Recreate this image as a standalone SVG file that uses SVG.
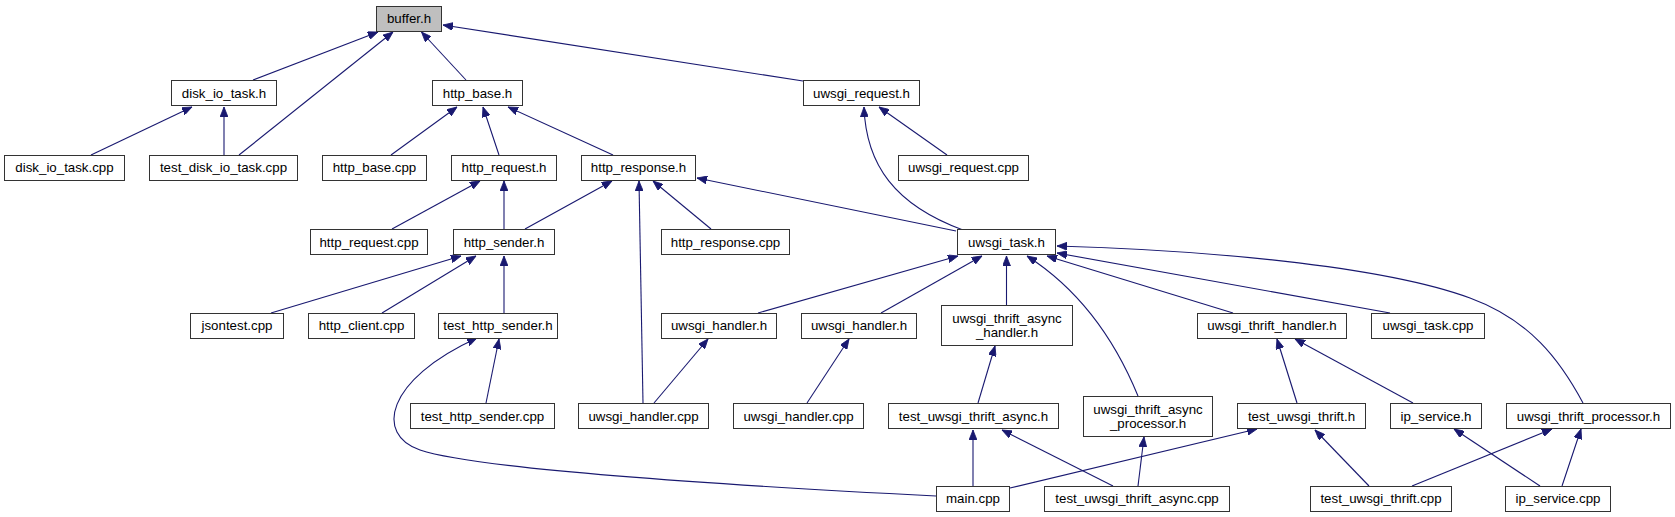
<svg xmlns="http://www.w3.org/2000/svg" width="1675" height="517" viewBox="0 0 1675 517">
<style>
.n rect{fill:#fff;stroke:#333;stroke-width:1}
.n text{font-family:"Liberation Sans",Arial,sans-serif;font-size:13.3px;fill:#000;text-anchor:middle}
#edges path{fill:none;stroke:#191970;stroke-width:1.1;marker-end:url(#ah)}
</style>
<defs>
<marker id="ah" viewBox="0 0 10 8" refX="10" refY="4" markerWidth="10" markerHeight="8" markerUnits="userSpaceOnUse" orient="auto"><path d="M0,0 L10,4 L0,8 Z" fill="#191970" stroke="#191970" stroke-width="0.8"/></marker>
</defs>
<rect width="1675" height="517" fill="#fff"/>
<g id="edges">
<path d="M253,80 L378,32"/>
<path d="M239,155 L393,32"/>
<path d="M466,80 L421.5,32"/>
<path d="M803,81 L443,25"/>
<path d="M91,155 L192,107"/>
<path d="M224,155 L224,107"/>
<path d="M391,155 L457,107"/>
<path d="M499,155 L483,107"/>
<path d="M613,155 L508,107"/>
<path d="M947,155 L879,107"/>
<path d="M963,230 C895,205 866,165 864,107"/>
<path d="M392,229 L480,181"/>
<path d="M504,229 L504,181"/>
<path d="M525,229 L612,181"/>
<path d="M643,403 L639,181"/>
<path d="M711,229 L653,181"/>
<path d="M956,231 L697,178"/>
<path d="M271,313 L461,256"/>
<path d="M382,313 L476,256"/>
<path d="M504,313 L504,256"/>
<path d="M486,403 L499,339"/>
<path d="M936,496 C760,487 480,470 420,450 C375,435 385,380 477,338"/>
<path d="M758,313 L958,256"/>
<path d="M881,313 L982,256"/>
<path d="M1006.5,305 L1006.5,256"/>
<path d="M1138,396 C1115,340 1080,290 1027,256"/>
<path d="M1233,313 L1047,256"/>
<path d="M1390,313 L1057,253"/>
<path d="M1583,403 C1560,360 1530,320 1470,298 C1380,265 1200,250 1057,246"/>
<path d="M654,403 L708,339"/>
<path d="M807,403 L849,339"/>
<path d="M978,403 L995,346"/>
<path d="M973,486 L973,430"/>
<path d="M1113,486 L1002,430"/>
<path d="M1138,486 L1144,437"/>
<path d="M1297,403 L1277,339"/>
<path d="M1413,403 L1295,339"/>
<path d="M1010,488 L1257,429"/>
<path d="M1369,486 L1315,430"/>
<path d="M1540,486 L1454,429"/>
<path d="M1412,486 L1552,429"/>
<path d="M1562,486 L1581,429"/>
</g>
<g id="buffer_h" class="n"><rect x="376.5" y="6.5" width="65" height="25" style="fill:#bfbfbf"/><text x="409" y="23">buffer.h</text></g>
<g id="disk_io_task_h" class="n"><rect x="171.5" y="80.5" width="105" height="25"/><text x="224" y="97.5">disk_io_task.h</text></g>
<g id="http_base_h" class="n"><rect x="432.5" y="80.5" width="90" height="25"/><text x="477.5" y="97.5">http_base.h</text></g>
<g id="uwsgi_request_h" class="n"><rect x="803.5" y="80.5" width="116" height="25"/><text x="861.5" y="97.5">uwsgi_request.h</text></g>
<g id="disk_io_task_cpp" class="n"><rect x="4.5" y="155.5" width="120" height="25"/><text x="64.5" y="172">disk_io_task.cpp</text></g>
<g id="test_disk_io_task_cpp" class="n"><rect x="149.5" y="155.5" width="148" height="25"/><text x="223.5" y="172">test_disk_io_task.cpp</text></g>
<g id="http_base_cpp" class="n"><rect x="322.5" y="155.5" width="104" height="25"/><text x="374.5" y="172">http_base.cpp</text></g>
<g id="http_request_h" class="n"><rect x="451.5" y="155.5" width="105" height="25"/><text x="504" y="172">http_request.h</text></g>
<g id="http_response_h" class="n"><rect x="581.5" y="155.5" width="114" height="25"/><text x="638.5" y="172">http_response.h</text></g>
<g id="uwsgi_request_cpp" class="n"><rect x="898.5" y="155.5" width="130" height="25"/><text x="963.5" y="172">uwsgi_request.cpp</text></g>
<g id="http_request_cpp" class="n"><rect x="310.5" y="229.5" width="117" height="25"/><text x="369" y="246.5">http_request.cpp</text></g>
<g id="http_sender_h" class="n"><rect x="453.5" y="229.5" width="101" height="25"/><text x="504" y="246.5">http_sender.h</text></g>
<g id="http_response_cpp" class="n"><rect x="661.5" y="229.5" width="128" height="25"/><text x="725.5" y="246.5">http_response.cpp</text></g>
<g id="uwsgi_task_h" class="n"><rect x="957.5" y="229.5" width="98" height="25"/><text x="1006.5" y="246.5">uwsgi_task.h</text></g>
<g id="jsontest_cpp" class="n"><rect x="190.5" y="313.5" width="93" height="25"/><text x="237" y="330">jsontest.cpp</text></g>
<g id="http_client_cpp" class="n"><rect x="308.5" y="313.5" width="106" height="25"/><text x="361.5" y="330">http_client.cpp</text></g>
<g id="test_http_sender_h" class="n"><rect x="438.5" y="313.5" width="119" height="25"/><text x="498" y="330">test_http_sender.h</text></g>
<g id="uwsgi_handler_h_1" class="n"><rect x="661.5" y="313.5" width="115" height="25"/><text x="719" y="330">uwsgi_handler.h</text></g>
<g id="uwsgi_handler_h_2" class="n"><rect x="801.5" y="313.5" width="115" height="25"/><text x="859" y="330">uwsgi_handler.h</text></g>
<g id="uwsgi_thrift_async_handler_h" class="n"><rect x="941.5" y="305.5" width="131" height="40"/><text x="1007" y="322.5">uwsgi_thrift_async</text><text x="1007" y="336.5">_handler.h</text></g>
<g id="uwsgi_thrift_handler_h" class="n"><rect x="1197.5" y="313.5" width="149" height="25"/><text x="1272" y="330">uwsgi_thrift_handler.h</text></g>
<g id="uwsgi_task_cpp" class="n"><rect x="1371.5" y="313.5" width="113" height="25"/><text x="1428" y="330">uwsgi_task.cpp</text></g>
<g id="test_http_sender_cpp" class="n"><rect x="410.5" y="403.5" width="144" height="25"/><text x="482.5" y="420.5">test_http_sender.cpp</text></g>
<g id="uwsgi_handler_cpp_1" class="n"><rect x="578.5" y="403.5" width="130" height="25"/><text x="643.5" y="420.5">uwsgi_handler.cpp</text></g>
<g id="uwsgi_handler_cpp_2" class="n"><rect x="733.5" y="403.5" width="130" height="25"/><text x="798.5" y="420.5">uwsgi_handler.cpp</text></g>
<g id="test_uwsgi_thrift_async_h" class="n"><rect x="888.5" y="403.5" width="170" height="25"/><text x="973.5" y="420.5">test_uwsgi_thrift_async.h</text></g>
<g id="uwsgi_thrift_async_processor_h" class="n"><rect x="1083.5" y="396.5" width="129" height="40"/><text x="1148" y="413.5">uwsgi_thrift_async</text><text x="1148" y="427.5">_processor.h</text></g>
<g id="test_uwsgi_thrift_h" class="n"><rect x="1237.5" y="403.5" width="128" height="25"/><text x="1301.5" y="420.5">test_uwsgi_thrift.h</text></g>
<g id="ip_service_h" class="n"><rect x="1390.5" y="403.5" width="91" height="25"/><text x="1436" y="420.5">ip_service.h</text></g>
<g id="uwsgi_thrift_processor_h" class="n"><rect x="1506.5" y="403.5" width="164" height="25"/><text x="1588.5" y="420.5">uwsgi_thrift_processor.h</text></g>
<g id="main_cpp" class="n"><rect x="936.5" y="486.5" width="73" height="25"/><text x="973" y="503">main.cpp</text></g>
<g id="test_uwsgi_thrift_async_cpp" class="n"><rect x="1044.5" y="486.5" width="185" height="25"/><text x="1137" y="503">test_uwsgi_thrift_async.cpp</text></g>
<g id="test_uwsgi_thrift_cpp" class="n"><rect x="1310.5" y="486.5" width="141" height="25"/><text x="1381" y="503">test_uwsgi_thrift.cpp</text></g>
<g id="ip_service_cpp" class="n"><rect x="1505.5" y="486.5" width="105" height="25"/><text x="1558" y="503">ip_service.cpp</text></g>
</svg>
